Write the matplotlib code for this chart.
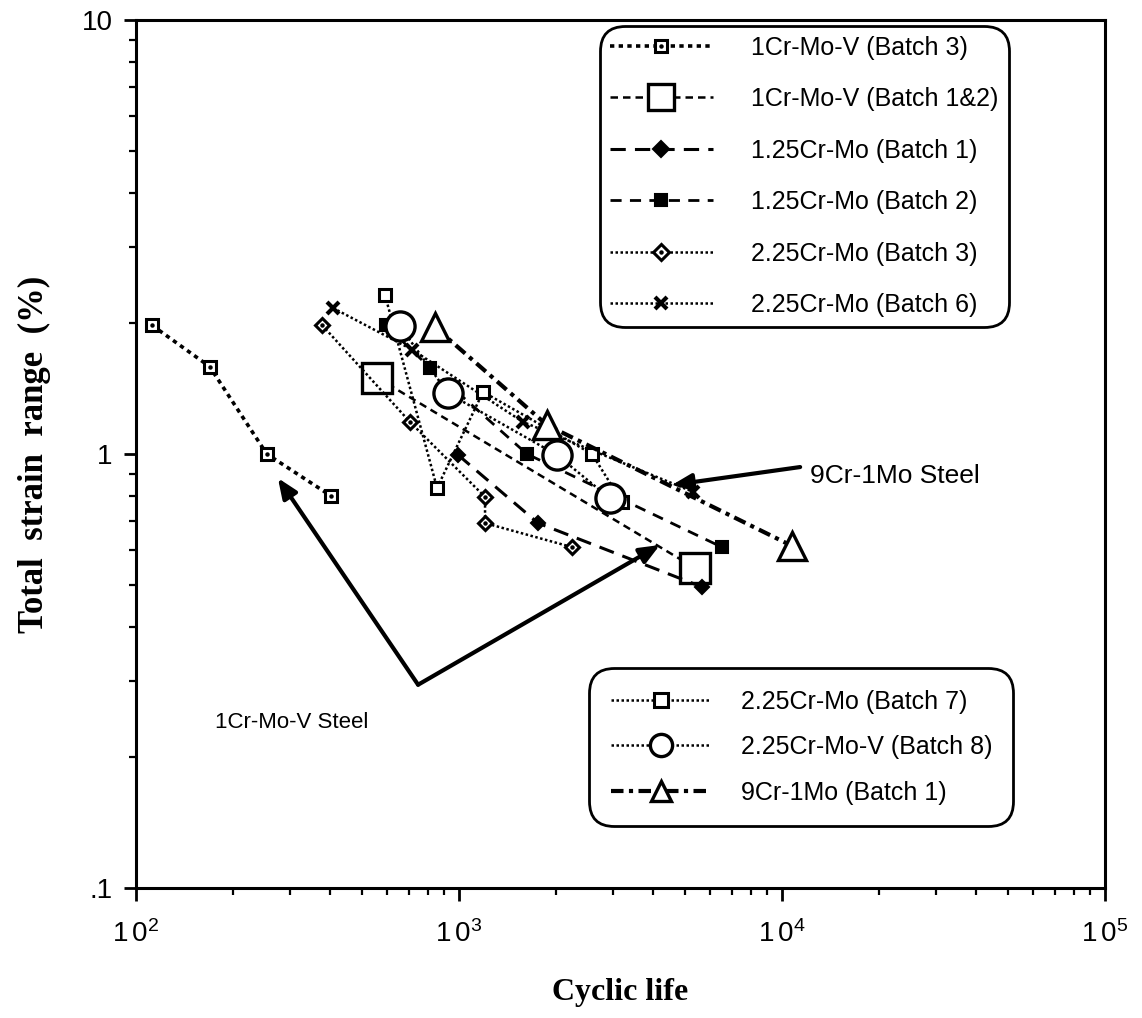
import matplotlib
matplotlib.use('Agg')
import matplotlib.pyplot as plt
from matplotlib.ticker import LogLocator, NullFormatter, FixedLocator, FixedFormatter

plt.rcParams['font.family'] = ['Liberation Sans', 'DejaVu Sans']
plt.rcParams['mathtext.fontset'] = 'custom'
plt.rcParams['mathtext.rm'] = 'Liberation Sans'

# cyclic life (cycles) and total strain range (%)
crmov_b3_life = [112, 169, 254, 402]
crmov_b3_strain = [1.98, 1.59, 1.0, 0.80]

crmov_b12_life = [557, 5380]
crmov_b12_strain = [1.50, 0.546]

crmo125_b1_life = [993, 1757, 5650]
crmo125_b1_strain = [0.995, 0.693, 0.494]

crmo125_b2_life = [594, 813, 1623, 6516]
crmo125_b2_strain = [1.98, 1.58, 1.0, 0.61]

crmo225_b3_life = [377, 705, 1204, 1204, 2240]
crmo225_b3_strain = [1.98, 1.185, 0.796, 0.693, 0.61]

crmo225_b6_life = [407, 715, 1579, 5303]
crmo225_b6_strain = [2.17, 1.74, 1.185, 0.818]

crmo225_b7_life = [590, 855, 1187, 2581, 3196]
crmo225_b7_strain = [2.325, 0.835, 1.39, 1.0, 0.775]

crmov225_b8_life = [656, 925, 2009, 2934]
crmov225_b8_strain = [1.97, 1.38, 0.995, 0.79]

cr9mo1_b1_life = [843, 1872, 10740]
cr9mo1_b1_strain = [1.96, 1.166, 0.614]

fig = plt.figure(figsize=(11.42, 10.18), dpi=100)
ax = fig.add_axes([0.1191, 0.1277, 0.8485, 0.8527])
ax.set_xscale('log')
ax.set_yscale('log')
ax.set_xlim(100, 1e5)
ax.set_ylim(0.1, 10)

k = 'black'
# (life, strain, label, linestyle, lw, marker, ms, fill, mew, centre dot, legend ms)
series = [
    (crmov_b3_life, crmov_b3_strain, '1Cr-Mo-V (Batch 3)', (0, (1.2, 1.2)), 2.6, 's', 8, 'white', 2.2, True, 8),
    (crmov_b12_life, crmov_b12_strain, '1Cr-Mo-V (Batch 1&2)', (0, (3, 2)), 1.8, 's', 22, 'white', 2.4, False, 19),
    (crmo125_b1_life, crmo125_b1_strain, '1.25Cr-Mo (Batch 1)', (0, (5, 3)), 2.2, 'D', 7, k, 1.5, False, 8),
    (crmo125_b2_life, crmo125_b2_strain, '1.25Cr-Mo (Batch 2)', (0, (4, 3)), 2.0, 's', 9, k, 1.5, False, 9),
    (crmo225_b3_life, crmo225_b3_strain, '2.25Cr-Mo (Batch 3)', (0, (1, 1)), 1.8, 'D', 7, 'white', 2.2, True, 8),
    (crmo225_b6_life, crmo225_b6_strain, '2.25Cr-Mo (Batch 6)', (0, (1, 1)), 1.8, 'x', 9, k, 3.0, False, 9),
    (crmo225_b7_life, crmo225_b7_strain, '2.25Cr-Mo (Batch 7)', (0, (1, 1)), 1.8, 's', 9, 'white', 2.2, False, 10),
    (crmov225_b8_life, crmov225_b8_strain, '2.25Cr-Mo-V (Batch 8)', (0, (1, 1)), 1.8, 'o', 21, 'white', 2.4, False, 16),
    (cr9mo1_b1_life, cr9mo1_b1_strain, '9Cr-1Mo (Batch 1)', (0, (3, 1.3, 1, 1.3)), 3.0, '^', 20, 'white', 2.4, False, 15),
]

handles = []
for life, strain, label, ls, lw, mk, ms, fc, mew, dot, lms in series:
    ln, = ax.plot(life, strain, linestyle=ls, lw=lw, color=k, marker=mk, ms=ms,
                  mfc=fc, mec=k, mew=mew, dash_capstyle='butt')
    if dot:
        d, = ax.plot(life, strain, linestyle='none', marker='o', ms=2.2, color=k)
        handles.append((ln, d))
    else:
        handles.append(ln)
labels = [s[2] for s in series]


def style_legend(leg, entries):
    fr = leg.get_frame()
    fr.set_edgecolor(k)
    fr.set_linewidth(2.0)
    fr.set_alpha(1)
    fr.set_boxstyle('round,pad=0,rounding_size=1.0')
    for h, s in zip(leg.legend_handles, entries):
        if hasattr(h, 'set_markersize'):
            h.set_markersize(s[10])


leg1 = ax.legend(handles[:6], labels[:6], loc='upper left', bbox_to_anchor=(0.479, 0.9935),
                 fontsize=18, handlelength=4.1, handletextpad=1.55, labelspacing=1.1,
                 borderpad=0.4, borderaxespad=0, numpoints=1, frameon=True, fancybox=True)
style_legend(leg1, series[:6])
ax.add_artist(leg1)

leg2 = ax.legend(handles[6:], labels[6:], loc='upper left', bbox_to_anchor=(0.468, 0.253),
                 fontsize=18, handlelength=4.0, handletextpad=1.2, labelspacing=0.86,
                 borderpad=0.85, borderaxespad=0, numpoints=1, frameon=True, fancybox=True)
style_legend(leg2, series[6:])

# annotations
arw = dict(arrowstyle='-|>,head_length=1.2,head_width=0.5', color=k, lw=3, shrinkA=0, shrinkB=0)
ax.annotate('', xy=(4560, 0.848), xytext=(11380, 0.933), arrowprops=arw)
ax.text(12220, 0.89, '9Cr-1Mo Steel', fontsize=19, va='center', ha='left')
ax.annotate('', xy=(275, 0.880), xytext=(747, 0.294), arrowprops=arw)
ax.annotate('', xy=(4188, 0.617), xytext=(747, 0.294), arrowprops=arw)
ax.text(176, 0.241, '1Cr-Mo-V Steel', fontsize=16, va='center', ha='left')

# axes styling
for sp in ax.spines.values():
    sp.set_linewidth(2.2)
ax.xaxis.set_major_locator(FixedLocator([1e2, 1e3, 1e4, 1e5]))
ax.xaxis.set_major_formatter(FixedFormatter([r'$\mathregular{1\,0^{2}}$', r'$\mathregular{1\,0^{3}}$',
                                             r'$\mathregular{1\,0^{4}}$', r'$\mathregular{1\,0^{5}}$']))
ax.yaxis.set_major_locator(FixedLocator([0.1, 1, 10]))
ax.yaxis.set_major_formatter(FixedFormatter(['.1', '1', '10']))
ax.xaxis.set_minor_locator(LogLocator(base=10, subs=range(2, 10)))
ax.yaxis.set_minor_locator(LogLocator(base=10, subs=range(2, 10)))
ax.xaxis.set_minor_formatter(NullFormatter())
ax.yaxis.set_minor_formatter(NullFormatter())
ax.tick_params(which='major', direction='out', length=9, width=2, labelsize=20)
ax.tick_params(axis='x', which='major', pad=14)
ax.tick_params(axis='y', which='major', pad=8)
ax.tick_params(which='minor', direction='out', length=5, width=1.6)
ax.tick_params(top=False, right=False)

ax.set_xlabel('Cyclic life', family='Liberation Serif', fontweight='bold', fontsize=23, labelpad=22)
ax.set_ylabel('Total  strain  range  (%)', family='Liberation Serif', fontweight='bold',
              fontsize=25, labelpad=22)

fig.savefig('out.png', dpi=100)
